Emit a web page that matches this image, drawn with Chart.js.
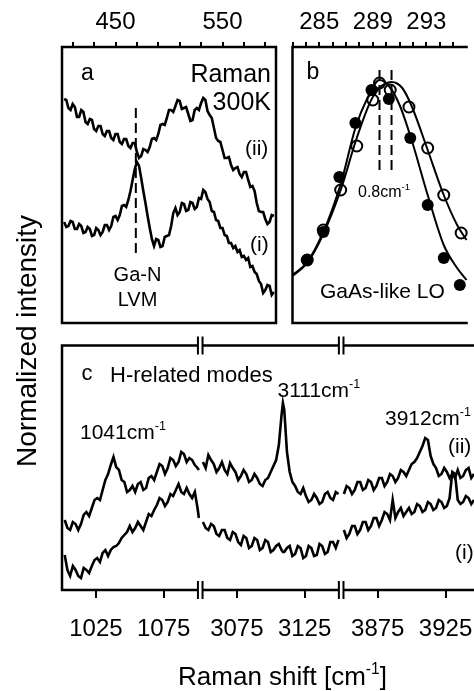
<!DOCTYPE html>
<html><head><meta charset="utf-8">
<script src="https://cdn.jsdelivr.net/npm/chart.js@4.4.0/dist/chart.umd.min.js"></script>
<style>
html,body{margin:0;padding:0;background:#fff;overflow:hidden;}
#wrap{position:relative;width:474px;height:691px;background:#fff;}
canvas{position:absolute;left:0;top:0;}
</style></head><body>
<div id="wrap">
<canvas id="ca" width="474" height="691"></canvas>
<canvas id="cb" width="474" height="691"></canvas>
<canvas id="cc" width="474" height="691"></canvas>
</div>
<script>
const FONT = '"Liberation Sans", Arial, Helvetica, sans-serif';

// ---------- Panel a : Ga-N LVM region ----------
const aTickVals = [410,430,450,470,490,510,530,550,570,590];
const aTickLabels = [450,550];
const aShift = [402,404,406,408,410,412,414,416,418,420,422,424,426,428,430,432,434,436,438,440,442,444,446,448,450,452,454,456,458,460,462,464,466,468,470,472,474,476,478,480,482,484,486,488,490,492,494,496,498,500,502,504,506,508,510,512,514,516,518,520,522,524,526,528,530,532,534,536,538,540,542,544,546,548,550,552,554,556,558,560,562,564,566,568,570,572,574,576,578,580,582,584,586,588,590,592,594,596,598];
const aIntII = [224,223,215,213,219,216,206,206,213,211,201,199,204,203,194,192,197,197,189,187,192,192,185,183,189,189,181,179,184,184,177,175,180,180,171,165,167,174,173,171,176,184,185,183,189,198,199,198,205,213,213,211,217,223,222,214,215,216,209,202,203,213,215,213,220,225,223,212,208,205,195,185,182,181,173,165,165,166,158,153,155,156,149,146,151,151,143,136,137,132,120,112,111,111,104,99,101,108,107];
const aIntI = [101,96,97,102,101,94,94,99,97,90,91,96,94,87,88,95,93,88,91,98,98,93,97,106,107,103,108,117,118,116,123,132,143,154,161,157,145,132,120,107,95,84,77,84,83,76,77,86,87,88,97,110,115,108,111,120,119,112,113,121,120,114,116,125,124,133,131,124,121,112,111,103,102,95,95,88,87,80,80,75,77,71,73,66,67,63,65,56,57,51,49,42,39,30,33,38,37,28,31];
const aLvmShift = [469,469];
const aLvmInt = [70,218];

// ---------- Panel b : GaAs-like LO ----------
const bTickVals = [283,284,285,286,287,288,289,290,291,292,293,294,295];
const bTickLabels = [285,289,293];
const bOpenShift = [284.1,285.3,286.6,287.8,289.0,289.5,290.3,291.7,293.1,294.3,295.6];
const bOpenInt = [63,93,133,177,223,240,233,216,175,128,90];
const bFilledShift = [284.1,285.3,286.5,287.7,288.9,290.2,291.8,293.1,294.3,295.5];
const bFilledInt = [63,91,146,200,233,224,185,118,65,38];
const bFitFilledShift = [283.0,284.1,285.3,286.6,287.7,288.6,289.5,290.2,291.0,291.9,293.1,294.3,295.3,296.0];
const bFitFilledInt = [48,61,91,139,195,225,243,237,218,183,128,78,55,43];
const bFitOpenShift = [283.0,284.1,285.3,286.6,287.8,289.0,290.4,291.2,291.9,293.1,294.3,295.3,296.0];
const bFitOpenInt = [47,60,89,133,185,226,241,235,217,173,128,98,83];
const bPeakFilled = [289.5,289.5];
const bPeakOpen = [290.4,290.4];
const bPeakInt = [153,256];

// ---------- Panel c : H-related modes (broken axis) ----------
const cTicks1 = [1025,1075];
const cTicks2 = [3075,3125];
const cTicks3 = [3875,3925];
const cShift1 = [1002,1004,1006,1008,1010,1012,1014,1016,1018,1020,1022,1024,1026,1028,1030,1032,1034,1036,1038,1040,1042,1044,1046,1048,1050,1052,1054,1056,1058,1060,1062,1064,1066,1068,1070,1072,1074,1076,1078,1080,1082,1084,1086,1088,1090,1092,1094,1096,1098,1100,1101];
const cII1 = [70,62,60,68,66,60,66,75,78,74,82,90,92,90,100,110,116,125,133,123,120,110,108,98,100,104,98,106,108,100,102,112,114,110,118,126,124,116,122,132,130,124,128,138,136,128,132,130,125,122,120];
const cI1 = [35,20,14,24,20,14,12,22,20,17,24,30,32,28,37,40,34,40,43,44,47,52,55,58,64,58,62,68,64,60,68,76,74,80,85,92,90,84,88,96,94,100,106,98,96,102,96,92,98,82,72];
const cShift2 = [3050,3052,3054,3056,3058,3060,3062,3064,3066,3068,3070,3072,3074,3076,3078,3080,3082,3084,3086,3088,3090,3092,3094,3096,3098,3100,3102,3104,3106,3108,3109,3110,3112,3114,3116,3118,3120,3122,3124,3126,3128,3130,3132,3134,3136,3138,3140,3142,3144,3146,3148,3150];
const cII2 = [128,122,135,130,126,118,122,128,120,116,127,122,118,110,114,120,116,108,110,116,112,106,104,110,112,118,124,130,145,175,187,180,138,118,108,104,98,96,102,94,88,90,96,92,86,88,96,98,92,90,98,96];
const cI2 = [68,62,60,66,64,56,54,60,60,52,50,58,56,48,45,54,52,42,44,52,50,40,42,50,48,38,40,44,46,40,38,38,42,44,34,36,44,42,32,34,44,42,34,35,46,44,36,38,48,48,42,50];
const cShift3 = [3850,3852,3854,3856,3858,3860,3862,3864,3866,3868,3870,3872,3874,3876,3878,3880,3882,3884,3886,3888,3890,3892,3894,3896,3898,3900,3902,3904,3906,3908,3910,3912,3914,3916,3918,3920,3922,3924,3926,3928,3930,3932,3934,3936,3938,3940,3942,3944,3946];
const cII3 = [96,104,102,96,100,108,108,100,102,110,108,100,104,112,112,104,108,116,114,108,112,120,118,114,120,126,128,132,138,144,152,150,134,126,122,114,116,122,118,112,116,112,120,112,114,120,122,112,116];
const cI3 = [60,52,56,64,64,56,60,68,68,60,64,72,72,64,70,78,76,70,90,72,78,82,74,78,82,76,78,86,84,78,80,88,86,80,82,90,88,82,84,92,118,116,90,86,88,94,92,86,90];

const pts = (xs, ys) => xs.map((x, i) => ({x: x, y: ys[i]}));

const spec = (data, extra) => Object.assign({data: data, borderColor: '#000', borderWidth: 2.6, pointRadius: 0, tension: 0, fill: false, borderJoinStyle: 'miter'}, extra || {});

const framePlugin = {
  id: 'frame',
  afterDraw(chart, args, opts) {
    const ctx = chart.ctx, a = chart.chartArea;
    ctx.save();
    ctx.strokeStyle = '#000';
    ctx.lineWidth = 2.5;
    ctx.lineCap = 'square';
    ctx.beginPath();
    const s = opts.sides || 'tlbr';
    if (s.includes('t')) { ctx.moveTo(a.left, a.top); ctx.lineTo(a.right, a.top); }
    if (s.includes('b')) { ctx.moveTo(a.left, a.bottom); ctx.lineTo(a.right, a.bottom); }
    if (s.includes('l')) { ctx.moveTo(a.left, a.top); ctx.lineTo(a.left, a.bottom); }
    if (s.includes('r')) { ctx.moveTo(a.right, a.top); ctx.lineTo(a.right, a.bottom); }
    ctx.stroke();
    if (opts.breaks) {
      opts.breaks.forEach(id => {
        const b = chart.scales[id].right;
        [a.top, a.bottom].forEach(y => {
          ctx.fillStyle = '#fff';
          ctx.fillRect(b - 2.5, y - 2.5, 5, 5);
          ctx.lineWidth = 2;
          ctx.beginPath();
          ctx.moveTo(b - 2.3, y - 8); ctx.lineTo(b - 2.3, y + 8);
          ctx.moveTo(b + 2.3, y - 8); ctx.lineTo(b + 2.3, y + 8);
          ctx.stroke();
        });
      });
    }
    ctx.restore();
  }
};

function drawItem(ctx, it) {
  const f = s => s + 'px ' + FONT;
  ctx.save();
  ctx.fillStyle = '#000';
  ctx.textAlign = 'left';
  ctx.textBaseline = 'alphabetic';
  if (it.rot) {
    ctx.font = f(it.size);
    ctx.translate(it.x, it.y);
    ctx.rotate(it.rot);
    ctx.textAlign = 'center';
    ctx.textBaseline = 'middle';
    ctx.fillText(it.t, 0, 0);
    ctx.restore();
    return;
  }
  const ss = it.size * 0.6;
  ctx.font = f(it.size);
  const w1 = ctx.measureText(it.t).width;
  let wsup = 0, wafter = 0;
  if (it.after) wafter = ctx.measureText(it.after).width;
  if (it.sup) { ctx.font = f(ss); wsup = ctx.measureText(it.sup).width; }
  const total = w1 + wsup + wafter;
  let x0 = it.x;
  if (it.align === 'center') x0 = it.x - total / 2;
  else if (it.align === 'right') x0 = it.x - total;
  ctx.font = f(it.size);
  ctx.fillText(it.t, x0, it.y);
  if (it.sup) {
    ctx.font = f(ss);
    ctx.fillText(it.sup, x0 + w1, it.y - it.size * 0.42);
  }
  if (it.after) {
    ctx.font = f(it.size);
    ctx.fillText(it.after, x0 + w1 + wsup, it.y);
  }
  ctx.restore();
}

const textPlugin = {
  id: 'notes',
  afterDraw(chart, args, opts) {
    (opts.items || []).forEach(it => drawItem(chart.ctx, it));
  }
};

const noPad = s => { s.paddingLeft = 0; s.paddingRight = 0; s.paddingTop = 0; s.paddingBottom = 0; };
const tickFont = {family: FONT, size: 24};
const topAxis = (min, max, vals, labels) => ({
  type: 'linear', position: 'top', min: min, max: max,
  afterBuildTicks: s => { s.ticks = vals.map(v => ({value: v})); },
  afterFit: s => { s.height = 47; noPad(s); },
  ticks: {callback: v => labels.includes(v) ? String(v) : '', font: tickFont, color: '#000', padding: 5, maxRotation: 0, minRotation: 0, autoSkip: false},
  grid: {display: true, drawOnChartArea: false, drawTicks: true, tickLength: 5, color: '#000', lineWidth: 2},
  border: {display: false}
});
const bottomAxis = (min, max, vals, w) => ({
  type: 'linear', position: 'bottom', min: min, max: max, stack: 'cx', stackWeight: w,
  afterBuildTicks: s => { s.ticks = vals.map(v => ({value: v})); },
  afterFit: s => { s.height = 101; noPad(s); },
  ticks: {callback: v => String(v), font: tickFont, color: '#000', padding: 17, maxRotation: 0, minRotation: 0, autoSkip: false},
  grid: {display: true, drawOnChartArea: false, drawTicks: true, tickLength: 8, color: '#000', lineWidth: 2},
  border: {display: false}
});
const hiddenY = (max) => ({type: 'linear', display: false, min: 0, max: max});
const baseOpts = {
  responsive: false, animation: false, events: [],
  plugins: {legend: {display: false}, tooltip: {enabled: false}, title: {display: false}}
};

// Chart a
new Chart(document.getElementById('ca'), {
  type: 'line',
  data: {datasets: [
    spec(pts(aShift, aIntII)),
    spec(pts(aShift, aIntI)),
    spec(pts(aLvmShift, aLvmInt), {borderWidth: 2, borderDash: [10, 5]})
  ]},
  options: Object.assign({}, baseOpts, {
    layout: {padding: {left: 62, right: 198, top: 0, bottom: 368}},
    scales: {
      x: topAxis(400, 600, aTickVals, aTickLabels),
      y: hiddenY(276)
    },
    plugins: Object.assign({}, baseOpts.plugins, {
      frame: {sides: 'tlbr'},
      notes: {items: [
        {t: 'a', x: 81, y: 80, size: 23},
        {t: 'Raman', x: 271, y: 81.5, size: 25, align: 'right'},
        {t: '300K', x: 271, y: 110, size: 25, align: 'right'},
        {t: '(ii)', x: 245, y: 155, size: 21},
        {t: '(i)', x: 250, y: 250.5, size: 21},
        {t: 'Ga-N', x: 137.5, y: 280.5, size: 20, align: 'center'},
        {t: 'LVM', x: 137.5, y: 306, size: 20, align: 'center'}
      ]}
    })
  }),
  plugins: [framePlugin, textPlugin]
});

// Chart b
new Chart(document.getElementById('cb'), {
  type: 'line',
  data: {datasets: [
    spec(pts(bFitFilledShift, bFitFilledInt), {borderWidth: 2, tension: 0.4, cubicInterpolationMode: 'monotone'}),
    spec(pts(bFitOpenShift, bFitOpenInt), {borderWidth: 2, tension: 0.4, cubicInterpolationMode: 'monotone'}),
    spec(pts(bPeakFilled, bPeakInt), {borderWidth: 2, borderDash: [10, 5]}),
    spec(pts(bPeakOpen, bPeakInt), {borderWidth: 2, borderDash: [10, 5]}),
    {data: pts(bFilledShift, bFilledInt), showLine: false, pointStyle: 'circle', pointRadius: 6, pointBorderWidth: 0, pointBackgroundColor: '#000', pointBorderColor: '#000'},
    {data: pts(bOpenShift, bOpenInt), showLine: false, pointStyle: 'circle', pointRadius: 5.5, pointBorderWidth: 2, pointBackgroundColor: 'rgba(0,0,0,0)', pointBorderColor: '#000'}
  ]},
  options: Object.assign({}, baseOpts, {
    clip: false,
    layout: {padding: {left: 292.5, right: 0, top: 0, bottom: 368}},
    scales: {
      x: topAxis(283, 296, bTickVals, bTickLabels),
      y: hiddenY(276)
    },
    plugins: Object.assign({}, baseOpts.plugins, {
      frame: {sides: 'tlb'},
      notes: {items: [
        {t: 'b', x: 306.5, y: 78.5, size: 23},
        {t: '0.8cm', sup: '-1', x: 358, y: 197, size: 16},
        {t: 'GaAs-like LO', x: 320, y: 298, size: 21}
      ]}
    })
  }),
  plugins: [framePlugin, textPlugin]
});

// Chart c
const cd = (xs, ys, ax) => spec(pts(xs, ys), {xAxisID: ax});
new Chart(document.getElementById('cc'), {
  type: 'line',
  data: {datasets: [
    cd(cShift1, cII1, 'x1'), cd(cShift1, cI1, 'x1'),
    cd(cShift2, cII2, 'x2'), cd(cShift2, cI2, 'x2'),
    cd(cShift3, cII3, 'x3'), cd(cShift3, cI3, 'x3')
  ]},
  options: Object.assign({}, baseOpts, {
    layout: {padding: {left: 62, right: 0, top: 345.5, bottom: 0}},
    scales: {
      x1: bottomAxis(1000, 1102, cTicks1, 102),
      x2: bottomAxis(3048, 3152, cTicks2, 104),
      x3: bottomAxis(3848, 3946, cTicks3, 98),
      y: hiddenY(244.5)
    },
    plugins: Object.assign({}, baseOpts.plugins, {
      frame: {sides: 'tlb', breaks: ['x1', 'x2']},
      notes: {items: [
        {t: 'c', x: 81.5, y: 380, size: 22},
        {t: 'H-related modes', x: 110, y: 381.5, size: 22},
        {t: '3111cm', sup: '-1', x: 277.5, y: 396.5, size: 21},
        {t: '1041cm', sup: '-1', x: 80, y: 438.5, size: 21},
        {t: '3912cm', sup: '-1', x: 385, y: 425, size: 21},
        {t: '(ii)', x: 448, y: 453, size: 21},
        {t: '(i)', x: 455, y: 559, size: 21},
        {t: 'Raman shift [cm', sup: '-1', after: ']', x: 282.5, y: 685, size: 26, align: 'center'},
        {t: 'Normalized intensity', x: 28, y: 341, size: 28, rot: -Math.PI / 2}
      ]}
    })
  }),
  plugins: [framePlugin, textPlugin]
});
</script>
</body></html>
